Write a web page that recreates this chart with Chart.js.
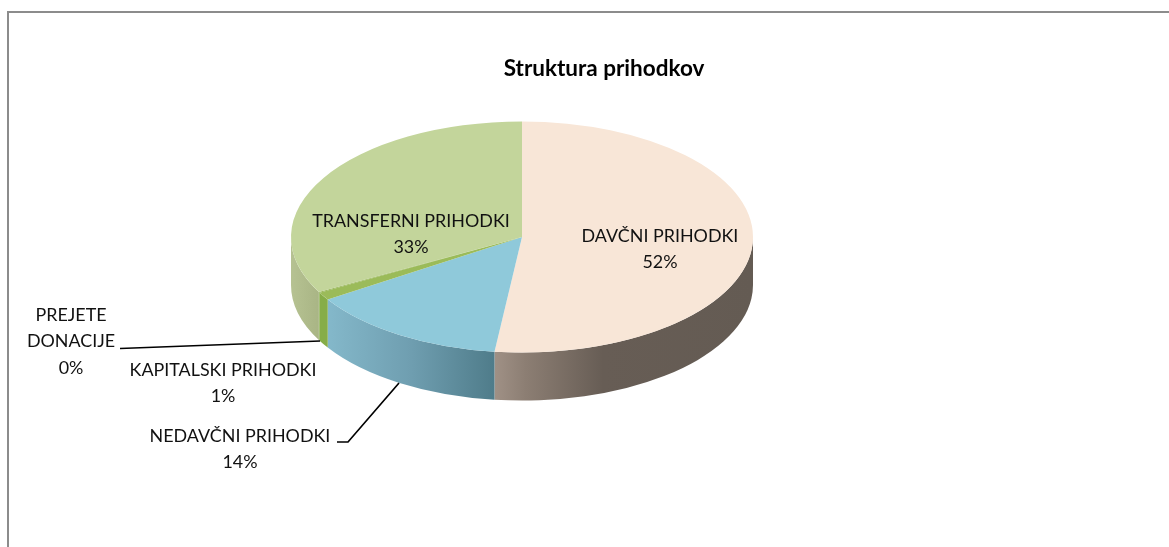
<!DOCTYPE html>
<html>
<head>
<meta charset="utf-8">
<style>
html,body{margin:0;padding:0;background:#fff;width:1169px;height:547px;overflow:hidden}
#frame{position:absolute;left:7px;top:11px;width:1162px;height:536px;border-left:2px solid #8c8c8c;border-top:2px solid #8c8c8c;box-sizing:border-box}
#wrap{position:absolute;left:0;top:0;width:1169px;height:547px}
</style>
<script src="https://cdn.jsdelivr.net/npm/chart.js@4"></script>
</head>
<body>
<div id="frame"></div>
<div id="wrap"><canvas id="c" width="1169" height="547"></canvas></div>
<script>
const chartTitle = 'Struktura prihodkov';
const categories = ['DAVČNI PRIHODKI','NEDAVČNI PRIHODKI','KAPITALSKI PRIHODKI','PREJETE DONACIJE','TRANSFERNI PRIHODKI'];
const values = [51.9, 14.0, 1.1, 0.1, 32.9];
const topColors = ['#F8E6D7','#8FC9DA','#9BBB59','#8FB04A','#C3D59B'];
// side-wall gradient, left to right along each slice's visible rim
const sideStops = [
  [[0,'#A09186'],[0.12,'#8C7E73'],[0.42,'#675D55'],[1,'#645B53']],
  [[0,'#84B8CA'],[0.5,'#6F9EB0'],[1,'#4F7C8A']],
  [[0,'#86AD48'],[1,'#86AD48']],
  [[0,'#86AD48'],[1,'#86AD48']],
  [[0,'#B6C292'],[1,'#A9B585']]
];
// label appearance: centre x, first-line centre y, wrapped lines
const labelLayout = [
  {x:660, y:236, lines:['DAVČNI PRIHODKI']},
  {x:240, y:436, lines:['NEDAVČNI PRIHODKI']},
  {x:223, y:370, lines:['KAPITALSKI PRIHODKI']},
  {x:71,  y:315, lines:['PREJETE','DONACIJE']},
  {x:411, y:221, lines:['TRANSFERNI PRIHODKI']}
];
const leaderLines = [
  [[120,348.5],[320,341]],
  [[337,442],[348,442],[399,383]]
];
const RADIUS = 231, SQUASH = 0.5, DEPTH = 48, PIE_X = 522, PIE_Y = 237;
const FONT = 'Lato, Carlito, sans-serif';
const LABEL_SIZE = 17.9, LINE_H = 26.5;

const pie3d = {
  id:'pie3d',
  beforeDatasetsDraw(chart){
    const ctx = chart.ctx, arcs = chart.getDatasetMeta(0).data;
    const rx = arcs[0].outerRadius, ry = rx*SQUASH;
    arcs.forEach((arc,i)=>{
      const norm = a => { let v = a % (2*Math.PI); return v<0 ? v+2*Math.PI : v; };
      let a0 = norm(arc.startAngle), a1 = a0 + (arc.endAngle-arc.startAngle);
      const segs = [[a0,Math.min(a1,Math.PI)]];
      if (a1 > 2*Math.PI) segs.push([2*Math.PI,Math.min(a1,3*Math.PI)]);
      segs.forEach(([s,e])=>{
        if (e<=s) return;
        const xs = PIE_X+rx*Math.cos(s), xe = PIE_X+rx*Math.cos(e);
        const g = ctx.createLinearGradient(Math.min(xs,xe),0,Math.max(xs,xe),0);
        sideStops[i].forEach(st=>g.addColorStop(st[0],st[1]));
        ctx.beginPath();
        ctx.ellipse(PIE_X,PIE_Y,rx,ry,0,s,e,false);
        ctx.ellipse(PIE_X,PIE_Y+DEPTH,rx,ry,0,e,s,true);
        ctx.closePath();
        ctx.fillStyle = g;
        ctx.fill();
      });
    });
    ctx.save();
    ctx.translate(PIE_X,PIE_Y);
    ctx.scale(1,SQUASH);
    ctx.translate(-arcs[0].x,-arcs[0].y);
  },
  afterDatasetsDraw(chart){
    chart.ctx.restore();
  },
  afterDraw(chart){
    const ctx = chart.ctx, total = values.reduce((a,b)=>a+b,0);
    ctx.save();
    ctx.strokeStyle = '#000';
    ctx.lineWidth = 1.7;
    leaderLines.forEach(pts=>{
      ctx.beginPath();
      pts.forEach((p,i)=> i ? ctx.lineTo(p[0],p[1]) : ctx.moveTo(p[0],p[1]));
      ctx.stroke();
    });
    ctx.fillStyle = '#111';
    ctx.font = LABEL_SIZE+'px '+FONT;
    ctx.textAlign = 'center';
    ctx.textBaseline = 'middle';
    labelLayout.forEach((l,i)=>{
      const rows = l.lines.concat(Math.round(values[i]/total*100)+'%');
      rows.forEach((t,k)=> ctx.fillText(t,l.x,l.y+k*LINE_H));
    });
    ctx.restore();
  }
};

new Chart(document.getElementById('c'),{
  type:'pie',
  data:{labels:categories,datasets:[{data:values,backgroundColor:topColors,borderWidth:0,radius:RADIUS}]},
  options:{
    responsive:false,
    animation:false,
    layout:{padding:{left:39,right:0,top:0,bottom:0}},
    plugins:{
      legend:{display:false},
      tooltip:{enabled:false},
      title:{display:true,text:chartTitle,color:'#000',font:{family:FONT,size:22.5,weight:'bold'},padding:{top:55,bottom:0}}
    }
  },
  plugins:[pie3d]
});
</script>
</body>
</html>
